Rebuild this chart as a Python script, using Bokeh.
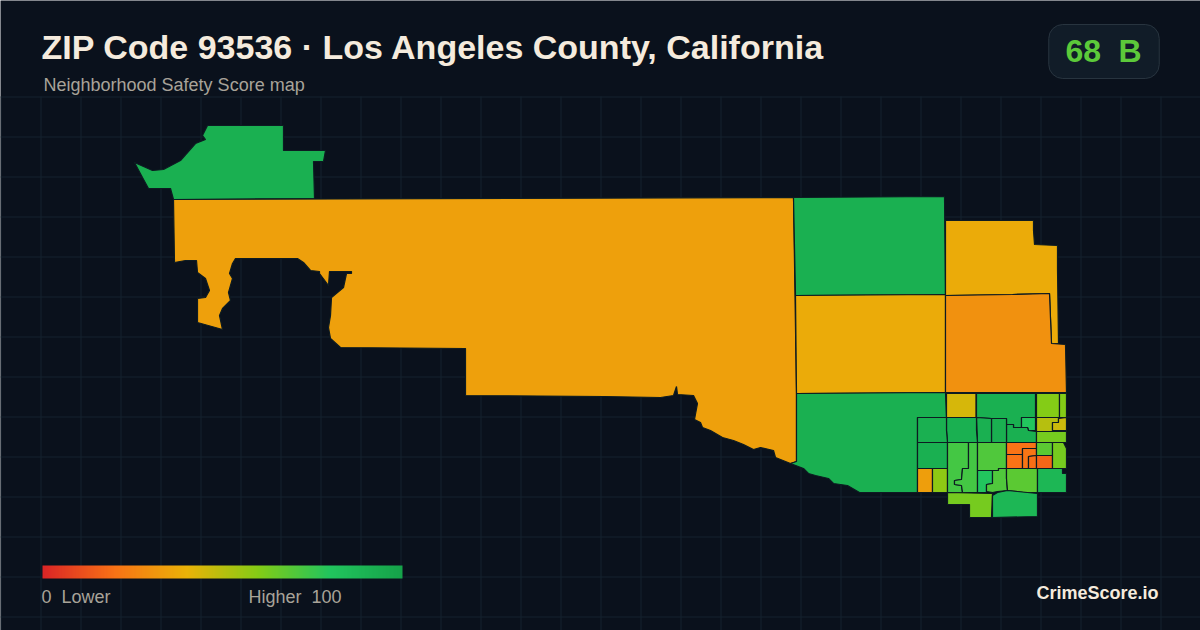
import numpy as np
from bokeh.plotting import figure
from bokeh.models import ColumnDataSource, LinearColorMapper
from bokeh.core.properties import value
from bokeh.embed import file_html
from bokeh.resources import INLINE

TITLE = "ZIP Code 93536 · Los Angeles County, California"
SUBTITLE = "Neighborhood Safety Score map"
BADGE_SCORE = "68"
BADGE_GRADE = "B"
BRAND = "CrimeScore.io"

# Colour ramp of the score scale
ramp_scores = [0, 20, 40, 60, 80, 100]
ramp_colors = [(220, 38, 38), (249, 115, 22), (234, 179, 8), (132, 204, 22), (34, 197, 94), (22, 163, 74)]

# Map regions: (score, outline in map units)
north = (92, [(207,125),(283,125),(283,150),(325,150),(323,161),(313,161),(314,198),(173,199),(170,188),(148,188),(142,177),(134,162),(152,170),(163,169),(180,160),(195,143),(205,139),(202,135)])
main_zip = (34, [(173,199),(793,197),(796,393),(796,461),(790,463),(775,457),(773,450),(760,447),(753,449),(743,444),(733,440),(722,437),(710,430),(702,427),(700,422),(694,419),(697,403),(693,395),(677,394),(676,386),(673,395),(660,397),(604,396),(465,395),(465,348),(340,347),(330,338),(328,327),(330,315),(331,297),(343,287),(346,273),(351,273),(351,271),(329,271),(328,285),(319,273),(319,271),(310,270),(303,262),(297,258),(235,258),(232,263),(229,273),(232,278),(228,292),(230,300),(222,308),(219,315),(222,329),(197,322),(197,298),(205,297),(209,290),(205,278),(197,272),(196,260),(185,260),(174,262)])
top_green = (92, [(793,197),(944,196),(945,294),(795,295)])
mid_amber = (37.6, [(795,295),(945,294),(945,392),(796,393)])
ne_amber = (37.6, [(945,220),(1033,220),(1033,230),(1034,244),(1057,245),(1057,269),(1058,343),(1051,343),(1050,318),(1049,293),(1012,294),(945,295)])
east_orange = (29.6, [(945,295),(1012,294),(1049,293),(1050,318),(1051,343),(1065,344),(1066,392),(1025,392),(945,392)])
sw_green = (92, [(796,393),(945,392),(946,417),(917,417),(917,442),(917,468),(917,492),(859,492),(847,485),(833,483),(828,478),(815,475),(808,473),(803,468),(790,463),(796,461)])
c_h = (44, [(946,393),(975.5,393),(975.5,417),(946,417)])
c_i = (92, [(976,393),(1035,393),(1035,417),(1021,417),(1021,427),(1013,427),(1013,424),(1006,424),(1006,418),(991,418),(976,417)])
c_j = (80, [(1021,417),(1035,417),(1035,430),(1028,430),(1027,427),(1021,427)])
c_k = (92, [(1006,424),(1013,424),(1013,427),(1027,427),(1028,430),(1036,431),(1036,442),(1006,442)])
c_l = (92, [(991,418),(1006,418),(1006,442),(991,442)])
c_m = (92, [(976,417),(991,418),(991,442),(977,442)])
c_n = (92, [(946,417),(976,417),(976,430),(977,442),(947,442),(946,430)])
c_o = (92, [(917,417),(946,417),(946,430),(947,442),(917,442)])
c_p = (92, [(917,442),(947,442),(947,468),(917,468)])
c_q = (33.6, [(917,468),(932,468),(932,492),(917,492)])
c_r = (58, [(932,468),(947,468),(947,492),(932,492)])
c_s = (60, [(1036,393),(1059,393),(1059,417),(1036,417)])
c_t = (60, [(1059,393),(1066,393),(1066,417),(1059,417)])
c_u = (50, [(1036,417),(1058,417),(1058,422),(1052,422),(1052,431),(1036,431)])
c_v = (46, [(1058,418),(1066,417),(1066,430),(1052,430),(1052,422),(1058,422)])
c_w = (62.7, [(1036,431),(1066,431),(1066,442),(1036,442)])
c_x = (73, [(947,442),(968,442),(968,468),(962,468),(961,479),(954,480),(954,484),(961,485),(962,492),(947,492)])
c_y = (73, [(968,442),(977,442),(977,470),(977,492),(962,492),(961,485),(954,484),(954,480),(961,479),(962,468),(968,468)])
c_z = (70.7, [(977,442),(1006,442),(1006,468),(998,468),(998,470),(977,470)])
c_aa = (80, [(977,470),(992,470),(992,483),(986,484),(986,492),(977,492)])
c_ab = (70.7, [(992,470),(998,470),(998,468),(1006,468),(1006,478),(1007,490),(997,491),(992,492),(986,491),(986,484),(992,483)])
c_ac = (68, [(1006,468),(1037,468),(1037,478),(1037,492),(1023,492),(1017,491),(1007,490),(1006,478)])
c_ad = (88, [(1037,468),(1062,468),(1062,473),(1066,473),(1066,492),(1037,492)])
c_ae = (62.7, [(947,492),(992,493),(991,517),(969,517),(969,504),(947,504)])
c_af = (88, [(992,495),(997,492),(1007,490),(1017,491),(1037,493),(1037,516),(992,517)])
c_ag = (20, [(1006,442),(1036,442),(1036,448),(1022,448),(1022,454),(1006,454)])
c_ah = (20, [(1006,454),(1022,454),(1022,468),(1006,468)])
c_ai = (21, [(1022,448),(1036,448),(1036,455),(1028,456),(1028,468),(1022,468)])
c_aj = (19, [(1028,456),(1036,455),(1036,468),(1028,468)])
c_ak = (17, [(1036,455),(1052,455),(1052,468),(1036,468)])
c_al = (68, [(1036,442),(1052,442),(1052,455),(1036,455)])
c_am = (62.7, [(1052,442),(1063,442),(1066,448),(1066,468),(1052,468)])

regions = [north, main_zip, top_green, mid_amber, ne_amber, east_orange, sw_green, c_h, c_i, c_j, c_k, c_l, c_m, c_n, c_o, c_p, c_q, c_r, c_s, c_t, c_u, c_v, c_w, c_x, c_y, c_z, c_aa, c_ab, c_ac, c_ad, c_ae, c_af, c_ag, c_ah, c_ai, c_aj, c_ak, c_al, c_am]

BG = "#0a111c"
W, H = 1200, 630
p = figure(width=W, height=H, x_range=(0, W), y_range=(H, 0), output_backend="svg",
           toolbar_location=None, background_fill_color=BG, border_fill_color=BG,
           min_border=0, outline_line_color=None)
p.axis.visible = False
p.grid.visible = False

# Background grid
gx = [v + 0.5 for v in range(0, 1200, 40)]
gy = [v + 0.5 for v in range(96, 630, 40)]
p.segment(x0=gx, y0=[96]*len(gx), x1=gx, y1=[630]*len(gx), line_color="#15222e", line_width=1)
p.segment(x0=[0]*len(gy), y0=gy, x1=[1200]*len(gy), y1=gy, line_color="#15222e", line_width=1)

# Score -> colour through the mapper
t = np.linspace(0, 100, 256)
chan = [np.interp(t, ramp_scores, [c[i] for c in ramp_colors]) for i in range(3)]
palette = ["#%02x%02x%02x" % (int(r), int(g), int(b)) for r, g, b in zip(*chan)]
mapper = LinearColorMapper(palette=palette, low=0, high=100)

src = ColumnDataSource(dict(
    xs=[[v[0] for v in r[1]] for r in regions],
    ys=[[v[1] for v in r[1]] for r in regions],
    score=[r[0] for r in regions],
))
p.patches("xs", "ys", source=src, fill_color={"field": "score", "transform": mapper},
          line_color="#0d1b22", line_width=1.2)

# Legend gradient
p.image(image=[np.linspace(0, 100, 360).reshape(1, -1)], x=42, y=565, dw=360, dh=13, color_mapper=mapper)

# Badge
p.rect(x=[1103.5], y=[51], width=[110.5], height=[54], border_radius=14,
       fill_color="#111c28", line_color="#28343f", line_width=1)

def label(x, y, txt, size, color, bold=False, align="left", font="Liberation Sans"):
    # the svg text sits below the requested alphabetic baseline by about 0.37 em
    p.text(x=[x], y=[y - 0.37 * size], text=[txt], text_font=value(font), text_font_size=f"{size}px",
           text_color=color, text_align=align, text_baseline="alphabetic",
           text_font_style="bold" if bold else "normal")

label(41, 59, TITLE, 34, "#f5ebdd", True)
label(43, 91, SUBTITLE, 18, "#a8a399")
label(1065, 62, BADGE_SCORE, 32, "#5cc93a", True)
label(1118, 62, BADGE_GRADE, 32, "#5cc93a", True)
label(41, 603, "0", 18, "#a8a399")
label(61, 603, "Lower", 18, "#a8a399")
label(248, 603, "Higher", 18, "#a8a399")
label(311, 603, "100", 18, "#a8a399")
label(1158, 599, BRAND, 18, "#f5ebdd", True, align="right")

open("out.html", "w").write(file_html(p, INLINE))
